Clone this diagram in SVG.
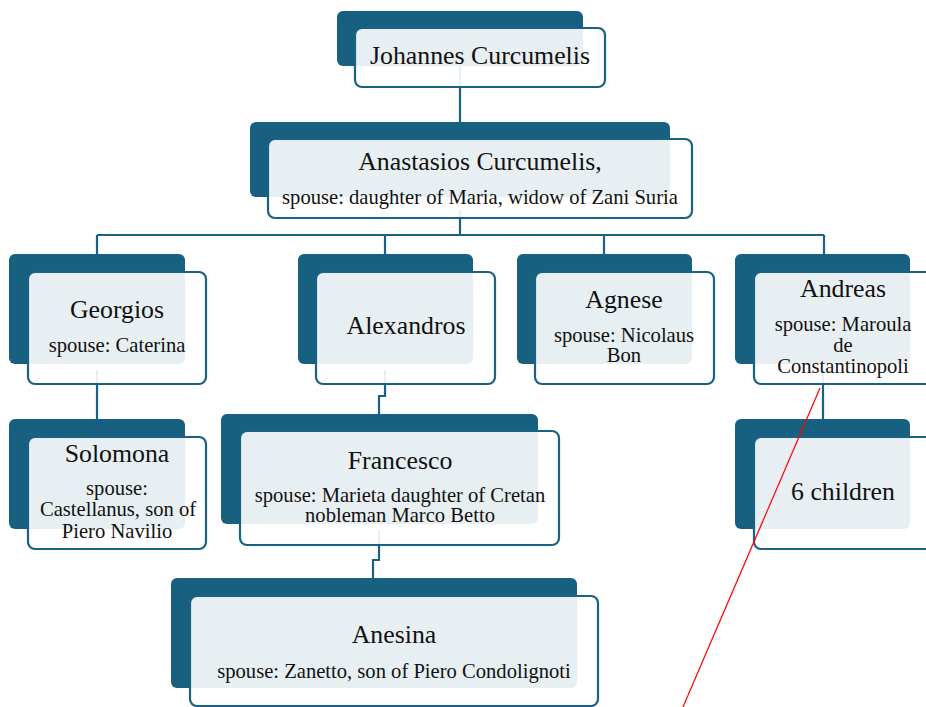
<svg xmlns="http://www.w3.org/2000/svg" width="926" height="707" viewBox="0 0 926 707">
<style>
.bg{fill:#fff}
.back{fill:#17607f}
.front{fill:#fff;fill-opacity:0.9;stroke:#1a6283;stroke-width:2.2}
.conn{fill:none;stroke:#1a6283;stroke-width:2.2}
.t{font-family:"Liberation Serif",serif;font-size:25.8px;fill:#111;text-anchor:middle}
.s{font-family:"Liberation Serif",serif;font-size:20.6px;fill:#111;text-anchor:middle}
</style>
<rect class="bg" x="0" y="0" width="926" height="707"/>
<g id="connectors">
<path class="conn" d="M460 60V122"/>
<path class="conn" d="M460 210V235M97 235H824M97 235V254M385 235V254M604 235V254M824 235V254"/>
<path class="conn" d="M97 370V419"/>
<path class="conn" d="M385 370V396H379V414"/>
<path class="conn" d="M379 530V560H373V578"/>
<path class="conn" d="M823 370V419"/>
</g>
<g id="n-johannes">
<rect class="back" x="337" y="11" width="246" height="55" rx="6"/>
<rect class="front" x="355" y="28" width="250" height="59" rx="7"/>
<text class="t" x="480" y="64">Johannes Curcumelis</text>
</g>
<g id="n-anastasios">
<rect class="back" x="250" y="122" width="420" height="75" rx="6"/>
<rect class="front" x="268" y="139" width="424" height="79" rx="7"/>
<text class="t" x="480" y="170">Anastasios Curcumelis,</text>
<text class="s" x="480" y="204">spouse: daughter of Maria, widow of Zani Suria</text>
</g>
<g id="n-georgios">
<rect class="back" x="9" y="254" width="176" height="110" rx="6"/>
<rect class="front" x="28" y="272" width="178" height="112" rx="7"/>
<text class="t" x="117" y="318">Georgios</text>
<text class="s" x="117" y="352">spouse: Caterina</text>
</g>
<g id="n-alexandros">
<rect class="back" x="298" y="254" width="175" height="110" rx="6"/>
<rect class="front" x="316" y="272" width="179" height="112" rx="7"/>
<text class="t" x="406" y="334">Alexandros</text>
</g>
<g id="n-agnese">
<rect class="back" x="517" y="254" width="175" height="110" rx="6"/>
<rect class="front" x="535" y="272" width="179" height="112" rx="7"/>
<text class="t" x="624" y="308">Agnese</text>
<text class="s" x="624" y="342">spouse: Nicolaus</text>
<text class="s" x="624" y="362">Bon</text>
</g>
<g id="n-andreas">
<rect class="back" x="735" y="254" width="175" height="110" rx="6"/>
<rect class="front" x="754" y="272" width="179" height="112" rx="7"/>
<text class="t" x="843" y="297">Andreas</text>
<text class="s" x="843" y="331">spouse: Maroula</text>
<text class="s" x="843" y="352">de</text>
<text class="s" x="843" y="373">Constantinopoli</text>
</g>
<g id="n-solomona">
<rect class="back" x="9" y="419" width="176" height="110" rx="6"/>
<rect class="front" x="28" y="437" width="178" height="112" rx="7"/>
<text class="t" x="117" y="462">Solomona</text>
<text class="s" x="117" y="495">spouse:</text>
<text class="s" x="118" y="516">Castellanus, son of</text>
<text class="s" x="117" y="538">Piero Navilio</text>
</g>
<g id="n-francesco">
<rect class="back" x="221" y="414" width="317" height="110" rx="6"/>
<rect class="front" x="240" y="431" width="319" height="114" rx="7"/>
<text class="t" x="400" y="469">Francesco</text>
<text class="s" x="400" y="502">spouse: Marieta daughter of Cretan</text>
<text class="s" x="400" y="522">nobleman Marco Betto</text>
</g>
<g id="n-sixchildren">
<rect class="back" x="735" y="419" width="175" height="110" rx="6"/>
<rect class="front" x="754" y="437" width="179" height="112" rx="7"/>
<text class="t" x="843" y="500">6 children</text>
</g>
<g id="n-anesina">
<rect class="back" x="171" y="578" width="406" height="110" rx="6"/>
<rect class="front" x="190" y="596" width="408" height="110" rx="7"/>
<text class="t" x="394" y="643">Anesina</text>
<text class="s" x="394" y="678">spouse: Zanetto, son of Piero Condolignoti</text>
</g>
<line x1="820" y1="388" x2="683" y2="707" stroke="#f00" stroke-width="1.2"/>
</svg>
